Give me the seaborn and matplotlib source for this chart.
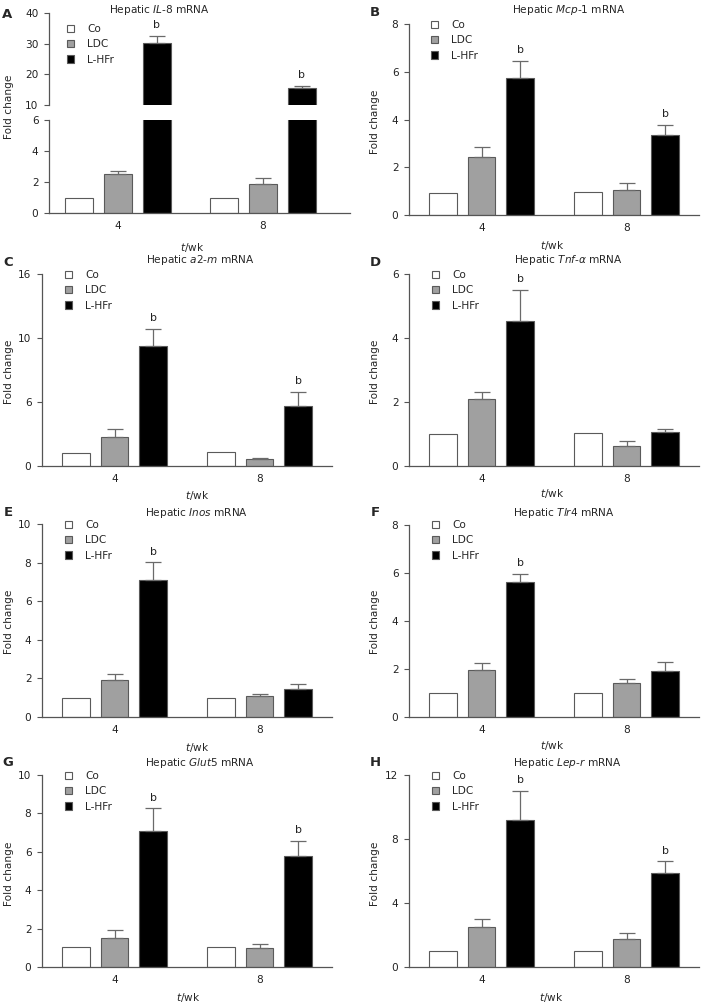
import numpy as np
import pandas as pd
import seaborn as sns
import matplotlib.pyplot as plt

weeks = ["4", "8"]
groups = ["Co", "LDC", "L-HFr"]
colors = ["white", "#a0a0a0", "black"]

# mean fold change per group (Co, LDC, L-HFr), each [week 4, week 8]; err = SEM (upper bar only)
il8_mean = [[1.0, 1.0], [2.5, 1.9], [30.2, 15.4]]
il8_err = [[0, 0], [0.2, 0.35], [2.4, 0.8]]
mcp1_mean = [[0.94, 0.95], [2.42, 1.05], [5.73, 3.37]]
mcp1_err = [[0, 0], [0.42, 0.28], [0.74, 0.41]]
# a2-m axis has evenly spaced ticks labelled 0/6/10/16, values given in tick spacing units
a2m_mean = [[0.99, 1.07], [2.24, 0.52], [9.39, 4.72]]
a2m_err = [[0, 0], [0.63, 0.13], [1.31, 1.07]]
tnf_mean = [[1.01, 1.02], [2.09, 0.63], [4.54, 1.05]]
tnf_err = [[0, 0], [0.22, 0.14], [0.97, 0.12]]
inos_mean = [[1.0, 1.0], [1.94, 1.11], [7.1, 1.46]]
inos_err = [[0, 0], [0.3, 0.1], [0.92, 0.26]]
tlr4_mean = [[1.02, 1.02], [1.96, 1.40], [5.63, 1.91]]
tlr4_err = [[0, 0], [0.27, 0.19], [0.34, 0.40]]
glut5_mean = [[1.02, 1.02], [1.49, 0.99], [7.1, 5.77]]
glut5_err = [[0, 0], [0.43, 0.21], [1.17, 0.8]]
lepr_mean = [[1.0, 1.0], [2.5, 1.75], [9.17, 5.9]]
lepr_err = [[0, 0], [0.51, 0.37], [1.85, 0.71]]

# significance letter over the L-HFr bar, [week 4, week 8]
il8_sig = ["b", "b"]
mcp1_sig = ["b", "b"]
a2m_sig = ["b", "b"]
tnf_sig = ["b", ""]
inos_sig = ["b", ""]
tlr4_sig = ["b", ""]
glut5_sig = ["b", "b"]
lepr_sig = ["b", "b"]

sns.set_style("ticks")
plt.rcParams["font.family"] = ["DejaVu Sans"]
plt.rcParams["font.size"] = 7.5
plt.rcParams["mathtext.fontset"] = "dejavusans"

W, H = 704, 1008
fig = plt.figure(figsize=(W / 100, H / 100), dpi=100)
FS = 7.6


def px_axes(l, t, r, b):
    return fig.add_axes([l / W, 1 - b / H, (r - l) / W, (b - t) / H])


def bars(ax, mean, err, sig):
    df = pd.DataFrame({"week": weeks * 3,
                       "group": np.repeat(groups, 2),
                       "fold": np.ravel(mean)})
    sns.barplot(data=df, x="week", y="fold", hue="group", hue_order=groups,
                palette=colors, gap=0.28, edgecolor="#5a5a5a", linewidth=0.8,
                errorbar=None, ax=ax)
    for i, cont in enumerate(list(ax.containers)):
        for j, bar in enumerate(cont):
            x = bar.get_x() + bar.get_width() / 2
            if err[i][j] > 0:
                ax.errorbar(x, mean[i][j], yerr=[[0], [err[i][j]]], fmt="none",
                            ecolor="#6a6a6a", elinewidth=0.9, capsize=5.5, capthick=0.9)
            if i == 2 and sig[j]:
                ax.annotate(sig[j], (x, mean[i][j] + err[i][j]), xytext=(0, 4),
                            textcoords="offset points", ha="center", va="bottom",
                            fontsize=FS + 0.3, color="#222222")
    ax.set_xlabel("")
    ax.set_ylabel("")
    sns.despine(ax=ax)
    for s in ["left", "bottom"]:
        ax.spines[s].set_color("#555555")
        ax.spines[s].set_linewidth(0.9)
    ax.tick_params(axis="y", length=3.6, width=0.8, color="#555555", pad=4,
                   labelsize=FS, labelcolor="#222222")
    ax.tick_params(axis="x", length=0, pad=6, labelsize=FS, labelcolor="#222222")


def legend_at(ax, x, y):
    sns.move_legend(ax, "upper left", bbox_to_anchor=(x / W, 1 - y / H),
                    bbox_transform=fig.transFigure, frameon=False, title=None,
                    fontsize=FS, handlelength=0.7, handleheight=0.7,
                    handletextpad=1.2, labelspacing=0.5, borderpad=0, borderaxespad=0)


# panel A: broken axis
a_top = px_axes(49, 13, 350, 105)
a_bot = px_axes(49, 120, 350, 213)
bars(a_top, il8_mean, il8_err, il8_sig)
bars(a_bot, il8_mean, il8_err, ["", ""])
for ax in (a_top, a_bot):
    ax.set_xlim(-0.476, 1.6)
a_top.set_ylim(10, 40)
a_top.set_yticks([10, 20, 30, 40])
a_top.spines["bottom"].set_visible(False)
a_top.set_xticks([])
a_bot.set_ylim(0, 6)
a_bot.set_yticks([0, 2, 4, 6])
a_bot.get_legend().remove()
legend_at(a_top, 67, 24)

panels = [
    ((409, 24, 699, 215), mcp1_mean, mcp1_err, mcp1_sig, 8, [0, 2, 4, 6, 8], None,
     r"Hepatic $\mathit{Mcp}$-$\mathit{1}$ mRNA", (569, 10), (431, 20)),
    ((42, 274, 332, 466), a2m_mean, a2m_err, a2m_sig, 15, [0, 5, 10, 15],
     ["0", "6", "10", "16"], r"Hepatic $\mathit{a2}$-$\mathit{m}$ mRNA", (200, 260), (65, 270)),
    ((409, 274, 699, 466), tnf_mean, tnf_err, tnf_sig, 6, [0, 2, 4, 6], None,
     r"Hepatic $\mathit{Tnf}$-$\mathit{\alpha}$ mRNA", (568, 260), (432, 270)),
    ((42, 524, 332, 717), inos_mean, inos_err, inos_sig, 10, [0, 2, 4, 6, 8, 10], None,
     r"Hepatic $\mathit{Inos}$ mRNA", (197, 513), (65, 520)),
    ((409, 525, 699, 717), tlr4_mean, tlr4_err, tlr4_sig, 8, [0, 2, 4, 6, 8], None,
     r"Hepatic $\mathit{Tlr4}$ mRNA", (564, 513), (432, 520)),
    ((42, 775, 332, 967), glut5_mean, glut5_err, glut5_sig, 10, [0, 2, 4, 6, 8, 10], None,
     r"Hepatic $\mathit{Glut5}$ mRNA", (200, 763), (65, 771)),
    ((409, 775, 699, 967), lepr_mean, lepr_err, lepr_sig, 12, [0, 4, 8, 12], None,
     r"Hepatic $\mathit{Lep}$-$\mathit{r}$ mRNA", (567, 763), (432, 771)),
]

for rect, mean, err, sig, ymax, yt, ylab, title, tpos, lpos in panels:
    ax = px_axes(*rect)
    bars(ax, mean, err, sig)
    ax.set_xlim(-0.5, 1.5)
    ax.set_ylim(0, ymax)
    ax.set_yticks(yt)
    if ylab:
        ax.set_yticklabels(ylab)
    legend_at(ax, *lpos)
    fig.text(tpos[0] / W, 1 - tpos[1] / H, title, ha="center", va="center", fontsize=FS)

fig.text(159 / W, 1 - 10 / H, r"Hepatic $\mathit{IL}$-$\mathit{8}$ mRNA", ha="center", va="center", fontsize=FS)

# panel letters
for letter, x, y in [("A", 7, 14), ("B", 375, 13), ("C", 8, 263), ("D", 375, 263),
                     ("E", 8, 513), ("F", 375, 513), ("G", 8, 763), ("H", 375, 763)]:
    fig.text(x / W, 1 - y / H, letter, ha="center", va="center", fontsize=9.5, fontweight="bold")

# axis labels
for x, y in [(9, 107), (375, 122), (9, 372), (375, 372), (9, 622), (375, 622), (9, 874), (375, 874)]:
    fig.text(x / W, 1 - y / H, "Fold change", rotation=90, ha="center", va="center", fontsize=FS)
for x, y in [(192, 247), (552, 245), (197, 495), (552, 493), (197, 747), (552, 745), (188, 998), (551, 997)]:
    fig.text(x / W, 1 - y / H, r"$\mathit{t}$/wk", ha="center", va="center", fontsize=FS)

fig.savefig("out.png", dpi=100, facecolor="white")
